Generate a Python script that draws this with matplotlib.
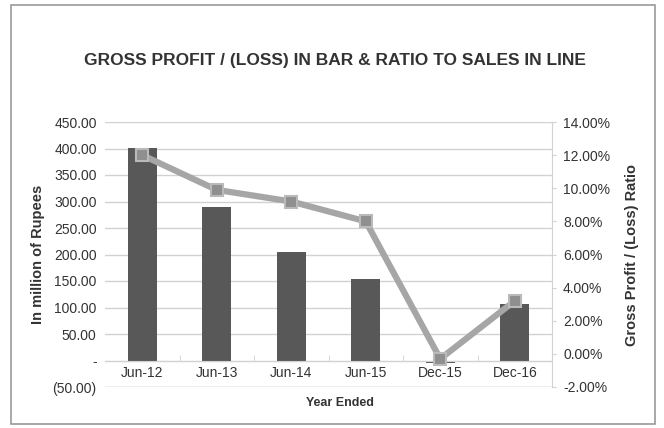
import numpy as np
import matplotlib.pyplot as plt
from matplotlib.ticker import FuncFormatter, MultipleLocator
from matplotlib.patches import Rectangle

plt.rcParams['font.family'] = ['Liberation Sans', 'DejaVu Sans']

periods = ['Jun-12', 'Jun-13', 'Jun-14', 'Jun-15', 'Dec-15', 'Dec-16']
gross_profit = [401, 289, 204, 154, -4, 107]        # million Rupees
gp_ratio = [12.0, 9.9, 9.2, 8.0, -0.3, 3.2]          # percent of sales

bar_color = '#585858'
line_color = '#a6a6a6'
grid_color = '#d2d2d2'
text_color = '#333333'

fig = plt.figure(figsize=(6.64, 4.28), dpi=100)
ax = fig.add_axes([105 / 664, 1 - 387 / 428, 447 / 664, 265 / 428])
ax2 = ax.twinx()

x = np.arange(len(periods))
ax.bar(x, gross_profit, width=0.39, color=bar_color, zorder=2)

ax.set_xlim(-0.5, len(periods) - 0.5)
ax.set_ylim(-50, 450)
ax.yaxis.set_major_locator(MultipleLocator(50))


def rupees(v, pos):
    if abs(v) < 1e-9:
        return '-'
    if v < 0:
        return f'({abs(v):.2f})'
    return f'{v:.2f}'


ax.yaxis.set_major_formatter(FuncFormatter(rupees))
ax.grid(axis='y', color=grid_color, linewidth=1, zorder=0)
ax.set_axisbelow(True)

# category labels sit on the zero line, like a spreadsheet chart
ax.spines['bottom'].set_position(('data', 0))
ax.spines['bottom'].set_color(grid_color)
ax.set_xticks(x)
ax.set_xticklabels(periods, fontsize=10, color=text_color)
ax.set_xticks(x[:-1] + 0.5, minor=True)
ax.tick_params(axis='x', which='major', length=0, pad=4)
ax.tick_params(axis='x', which='minor', length=4, color=grid_color, direction='in')
ax.axhline(-50, color=grid_color, linewidth=1, zorder=1)

for side in ['top', 'right', 'left']:
    ax.spines[side].set_visible(False)
for side in ['top', 'bottom', 'left']:
    ax2.spines[side].set_visible(False)
ax2.spines['right'].set_color(grid_color)
ax.tick_params(axis='y', length=0, labelsize=10, labelcolor=text_color, pad=6)

ax2.plot(x, gp_ratio, color=line_color, linewidth=4.5, marker='s',
         markersize=9, markerfacecolor='#8f8f8f', markeredgecolor='#bababa',
         markeredgewidth=1.5, zorder=3)
ax2.set_ylim(-2, 14)
ax2.yaxis.set_major_locator(MultipleLocator(2))
ax2.yaxis.set_major_formatter(FuncFormatter(lambda v, p: f'{v:.2f}%'))
ax2.tick_params(axis='y', length=3, color=grid_color, labelsize=10,
                labelcolor=text_color, pad=5)

ax.set_ylabel('In million of Rupees', fontsize=10.5, fontweight='bold',
              color=text_color)
ax.yaxis.set_label_coords(-0.135, 0.5)
ax2.set_ylabel('Gross Profit / (Loss) Ratio', fontsize=10.5, fontweight='bold',
               color=text_color)
ax2.yaxis.set_label_coords(1.163, 0.5)

fig.text(340 / 664, 1 - 403 / 428, 'Year Ended', ha='center', va='center',
         fontsize=9, fontweight='bold', color=text_color)
fig.text(335 / 664, 1 - 61 / 428, 'GROSS PROFIT / (LOSS) IN BAR & RATIO TO SALES IN LINE',
         ha='center', va='center', fontsize=12.5, fontweight='bold', color=text_color)

# outer chart frame
fig.patches.append(Rectangle((11 / 664, 1 - 424 / 428), 644 / 664, 419 / 428,
                             transform=fig.transFigure, fill=False,
                             edgecolor='#9a9a9a', linewidth=1.2))

fig.savefig('out.png', dpi=100)
